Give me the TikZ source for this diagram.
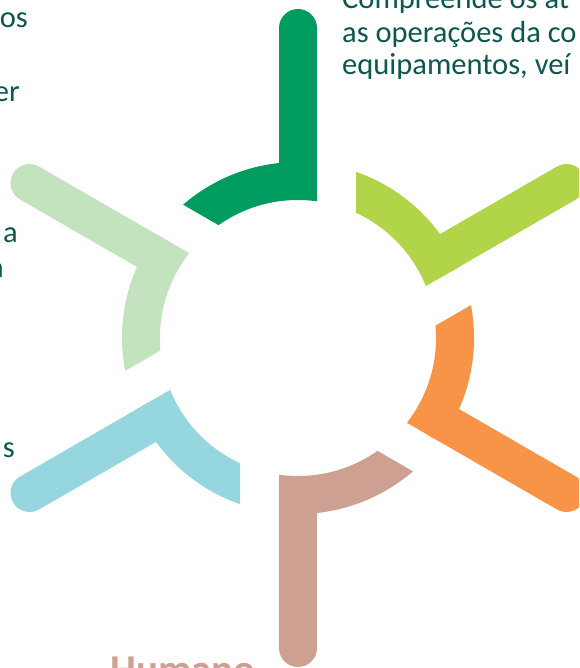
\documentclass[tikz,border=0pt]{standalone}
\usepackage{fontspec}
\setmainfont{Carlito}
\usepackage{xcolor}
\definecolor{txtteal}{RGB}{10,88,78}
\definecolor{armgreen}{RGB}{0,155,95}
\definecolor{armlime}{RGB}{178,212,72}
\definecolor{armorange}{RGB}{247,148,72}
\definecolor{armbrown}{RGB}{205,160,145}
\definecolor{armcyan}{RGB}{150,214,222}
\definecolor{armpale}{RGB}{195,226,190}

\begin{document}
\begin{tikzpicture}[
  x=1pt, y=1pt,
  every node/.style={inner sep=0pt,font=\fontsize{30.5}{33}\selectfont,text=txtteal},
  armring/.style={even odd rule},
  armbar/.style={line width=38pt,line cap=round}
]
  \clip (-298,-330) rectangle (281,338);

  % six arms, each cut by a wedge
  \begin{scope}[rotate=90]
    \clip (56,-19) -- (420,-19) -- (420,420) -- (306,414) -- cycle;
    \fill[armgreen,armring] (0,0) circle (176pt) (0,0) circle (138pt);
    \draw[armgreen,armbar] (160,0) -- (310,0);
  \end{scope}
  \begin{scope}[rotate=150]
    \clip (56,-19) -- (420,-19) -- (420,420) -- (306,414) -- cycle;
    \fill[armpale,armring] (0,0) circle (176pt) (0,0) circle (138pt);
    \draw[armpale,armbar] (160,0) -- (310,0);
  \end{scope}
  \begin{scope}[rotate=210]
    \clip (56,-19) -- (420,-19) -- (420,420) -- (306,414) -- cycle;
    \fill[armcyan,armring] (0,0) circle (176pt) (0,0) circle (138pt);
    \draw[armcyan,armbar] (160,0) -- (310,0);
  \end{scope}
  \begin{scope}[rotate=270]
    \clip (56,-19) -- (420,-19) -- (420,420) -- (306,414) -- cycle;
    \fill[armbrown,armring] (0,0) circle (176pt) (0,0) circle (138pt);
    \draw[armbrown,armbar] (160,0) -- (310,0);
  \end{scope}
  \begin{scope}[rotate=330]
    \clip (56,-19) -- (420,-19) -- (420,420) -- (306,414) -- cycle;
    \fill[armorange,armring] (0,0) circle (176pt) (0,0) circle (138pt);
    \draw[armorange,armbar] (160,0) -- (310,0);
  \end{scope}
  \begin{scope}[rotate=30]
    \clip (56,-19) -- (420,-19) -- (420,420) -- (306,414) -- cycle;
    \fill[armlime,armring] (0,0) circle (176pt) (0,0) circle (138pt);
    \draw[armlime,armbar] (160,0) -- (310,0);
  \end{scope}

  % text on the top right
  \node[anchor=base west] (top1) at (44,329) {Compreende os at};
  \node[anchor=base west] (top2) at (44,295) {as operações da co};
  \node[anchor=base west] (top3) at (44,263) {equipamentos, veí};

  % text cut by the left edge
  \node[anchor=base east] (left1) at (-270,310) {os};
  \node[anchor=base east] (left2) at (-278,236) {er};
  \node[anchor=base east] (left3) at (-280,95)  {a};
  \node[anchor=base east] (left4) at (-294,60)  {a};
  \node[anchor=base east] (left5) at (-283,-119) {s};

  % title cut by the bottom edge
  \node[anchor=base west,text=armbrown,font=\fontsize{41}{46}\selectfont\bfseries]
    (human) at (-188,-345) {Humano};
\end{tikzpicture}
\end{document}
